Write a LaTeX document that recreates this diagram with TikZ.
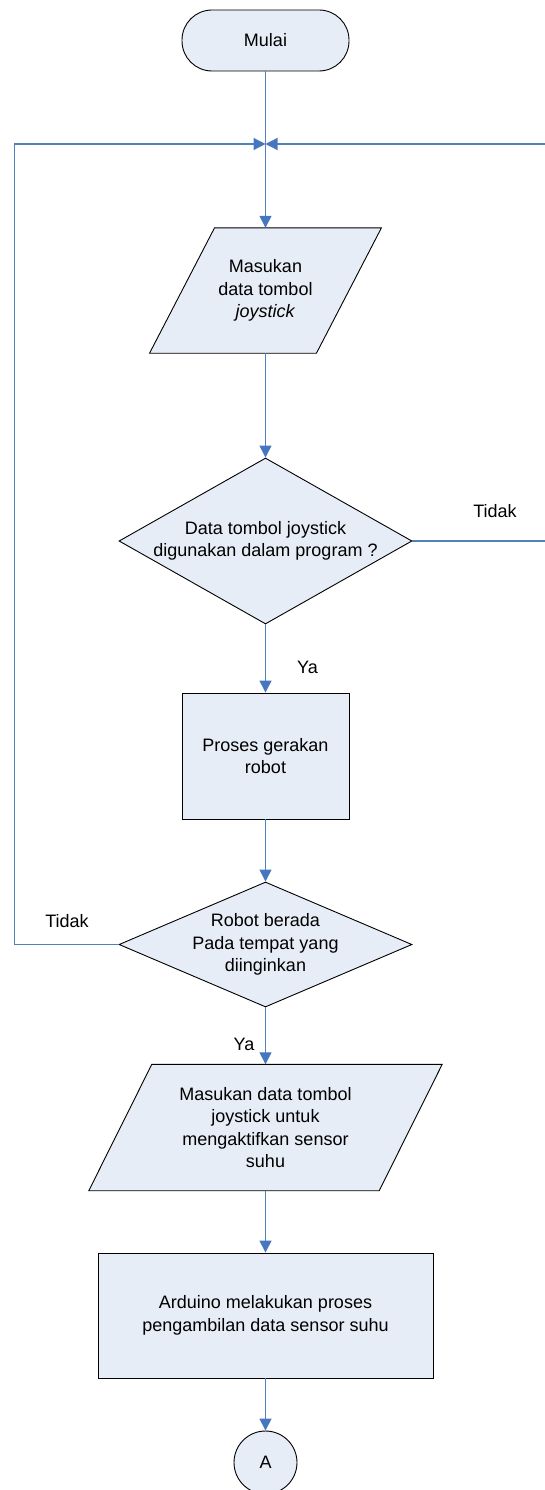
\documentclass[tikz,border=0pt]{standalone}
\usepackage{fontspec}
\setmainfont{Liberation Sans}
\usetikzlibrary{shapes.geometric,arrows.meta,calc}
\pgfdeclarelayer{bg}
\pgfsetlayers{bg,main}
\definecolor{fillc}{HTML}{E7EDF6}
\definecolor{linec}{HTML}{4F81BD}
\definecolor{tipc}{HTML}{4677BE}
\begin{document}
\begin{tikzpicture}[x=1pt,y=1pt,
  txt/.style={inner sep=0pt, font=\fontsize{18}{22.5}\selectfont, align=center},
  base/.style={txt, draw=black, line width=0.9pt, fill=fillc},
  term/.style={base, rounded corners=30pt, minimum width=167pt, minimum height=61pt},
  procbox/.style={base, rectangle},
  dia/.style={base, shape=diamond, minimum width=293pt},
  parabox/.style={txt, draw=none, fill=none},
  paraline/.style={draw=black, line width=0.9pt, fill=fillc, line join=miter},
  conn/.style={base, circle, minimum size=63pt},
  lbl/.style={txt},
  line/.style={draw=linec, line width=1.3pt},
  arr/.style={line, -{Triangle[length=12pt,width=12pt,color=tipc]}}
]
\useasboundingbox (0,0) rectangle (545,-1490);

% nodes
\node[term] (start) at (265.5,-40.5) {Mulai};
\coordinate (m) at (265.5,-144);

\node[parabox, minimum width=166.5pt, minimum height=125pt] (p1) at (265.5,-290.5)
  {Masukan\\data tombol\\\textit{joystick}};
\begin{pgfonlayer}{bg}
\draw[paraline] ($(p1.north west)+(32.5,0)$) -- ($(p1.north east)+(32.5,0)$)
  -- ($(p1.south east)+(-32.5,0)$) -- ($(p1.south west)+(-32.5,0)$) -- cycle;
\end{pgfonlayer}

\node[dia, minimum height=166pt] (d1) at (265.5,-541) {};
\node[txt] (d1t) at (d1.center) {Data tombol joystick\\digunakan dalam program ?};

\node[procbox, minimum width=167pt, minimum height=126pt] (r1) at (265.5,-756)
  {Proses gerakan\\robot};

\node[dia, minimum height=125pt] (d2) at (265.5,-944.5) {};
\node[txt] (d2t) at (d2.center) {Robot berada\\Pada tempat yang\\diinginkan};

\node[parabox, minimum width=290pt, minimum height=126pt] (p2) at (265.5,-1127.5)
  {Masukan data tombol\\joystick untuk\\mengaktifkan sensor\\suhu};
\begin{pgfonlayer}{bg}
\draw[paraline] ($(p2.north west)+(31.5,0)$) -- ($(p2.north east)+(31.5,0)$)
  -- ($(p2.south east)+(-31.5,0)$) -- ($(p2.south west)+(-31.5,0)$) -- cycle;
\end{pgfonlayer}

\node[procbox, minimum width=335pt, minimum height=125pt] (r2) at (265.5,-1315.5)
  {Arduino melakukan proses\\pengambilan data sensor suhu};

\node[conn] (a) at (265.5,-1462.5) {A};

% labels
\node[lbl] (t1) at (495,-511) {Tidak};
\node[lbl] (y1) at (307.5,-667) {Ya};
\node[lbl] (t2) at (67,-921) {Tidak};
\node[lbl] (y2) at (244,-1044) {Ya};

% connector corners
\coordinate (rc) at (546.5,-144);
\coordinate (lc) at (14.5,-144);

% connectors
\draw[arr] (start.south) -- (p1.north);
\draw[arr] (p1.south) -- (d1.north);
\draw[arr] (d1.south) -- (r1.north);
\draw[arr] (r1.south) -- (d2.north);
\draw[arr] (d2.south) -- (p2.north);
\draw[arr] (p2.south) -- (r2.north);
\draw[arr] (r2.south) -- (a.north);
\draw[arr] (d1.east) -| (rc) -- (m);
\draw[arr] (d2.west) -| (lc) -- (m);
\end{tikzpicture}
\end{document}
